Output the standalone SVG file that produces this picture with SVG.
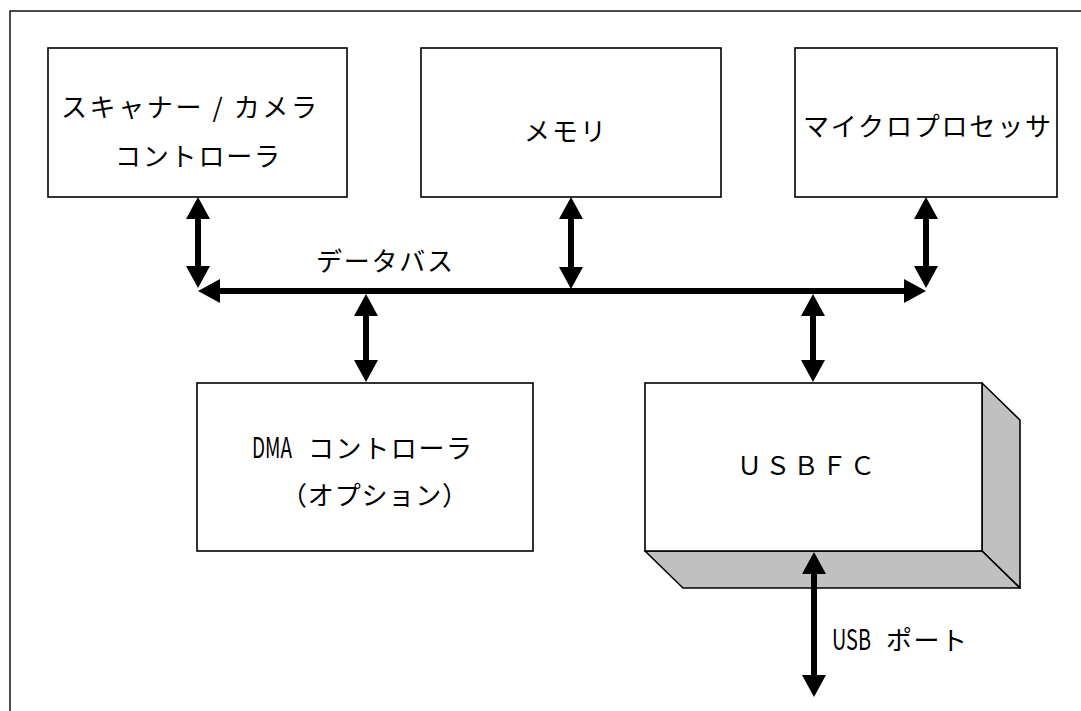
<svg xmlns="http://www.w3.org/2000/svg" width="1081" height="711" viewBox="0 0 1081 711">
<style>
.box{fill:#fff;stroke:#000;stroke-width:1.6}
.shade{fill:#c0c0c0;stroke:#000;stroke-width:1.6;stroke-linejoin:round}
.t{font-family:"Noto Sans CJK JP","Noto Sans",sans-serif;font-size:26px;fill:#000}
.lat{font-size:29px}
.c{fill:none;stroke:#000;stroke-width:6;marker-start:url(#ah);marker-end:url(#ah)}
</style>
<defs>
<marker id="ah" markerUnits="userSpaceOnUse" markerWidth="22" markerHeight="24" viewBox="0 0 22 24" refX="7" refY="12" orient="auto-start-reverse">
<path d="M0,0 L22,12 L0,24 z" fill="#000"/>
</marker>
</defs>
<rect width="1081" height="711" fill="#fff"/>
<rect id="frame" x="10" y="11" width="1100" height="720" fill="none" stroke="#000" stroke-width="1.4"/>

<g id="scanner">
<rect class="box" x="48" y="48" width="299" height="149"/>
<text class="t" x="61" y="117" textLength="256" lengthAdjust="spacing">スキャナー / カメラ</text>
<text class="t" x="115" y="166" textLength="165" lengthAdjust="spacing">コントローラ</text>
</g>

<g id="memory">
<rect class="box" x="421" y="48" width="300" height="149"/>
<text class="t" x="524" y="141" textLength="82" lengthAdjust="spacing">メモリ</text>
</g>

<g id="cpu">
<rect class="box" x="795" y="48" width="262" height="149"/>
<text class="t" x="803" y="136" textLength="248" lengthAdjust="spacing">マイクロプロセッサ</text>
</g>

<g id="dma">
<rect class="box" x="197" y="383" width="336" height="168"/>
<text class="t lat" x="252" y="458" textLength="40" lengthAdjust="spacingAndGlyphs">DMA</text>
<text class="t" x="308" y="458" textLength="164" lengthAdjust="spacing">コントローラ</text>
<text class="t" x="281" y="505" textLength="187" lengthAdjust="spacing">（オプション）</text>
</g>

<g id="usbfc">
<polygon class="shade" points="982,383 1020,420 1020,588 982,551"/>
<polygon class="shade" points="645,551 982,551 1020,588 683,588"/>
<rect class="box" x="645" y="383" width="337" height="168"/>
<text class="t" x="737" y="475" style="font-size:25px" textLength="138" lengthAdjust="spacing">ＵＳＢＦＣ</text>
</g>

<g id="connectors">
<path class="c" d="M198,212 L198,273"/>
<path class="c" d="M571,212 L571,274"/>
<path class="c" d="M926,212 L926,273"/>
<path class="c" d="M213,291 L911,291"/>
<path class="c" d="M366,309 L366,367"/>
<path class="c" d="M813,309 L813,367"/>
<path class="c" d="M814,567 L814,682"/>
</g>

<g id="labels">
<text class="t" x="316" y="271" textLength="137" lengthAdjust="spacing">データバス</text>
<text class="t lat" x="832" y="650" textLength="39" lengthAdjust="spacingAndGlyphs">USB</text>
<text class="t" x="886" y="650" textLength="81" lengthAdjust="spacing">ポート</text>
</g>
</svg>
